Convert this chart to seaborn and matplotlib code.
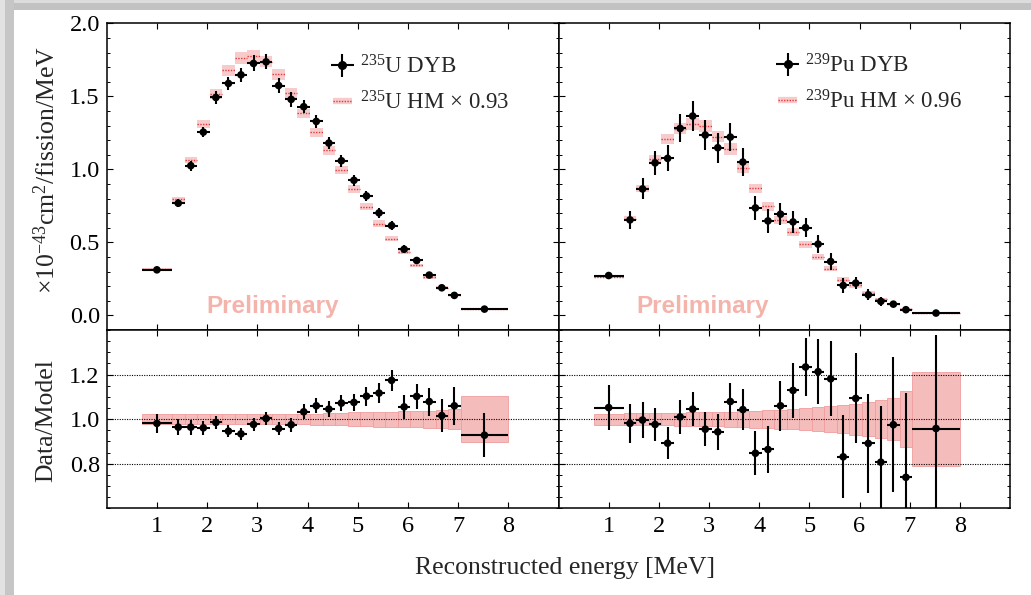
import numpy as np
import pandas as pd
import matplotlib
matplotlib.use("Agg")
import matplotlib.pyplot as plt
import seaborn as sns
from matplotlib.lines import Line2D
from matplotlib.patches import Rectangle
from matplotlib.ticker import MultipleLocator, FixedLocator, FormatStrFormatter

# ---------------- data ----------------
bin_edges = [0.7, 1.3, 1.55, 1.8, 2.05, 2.3, 2.55, 2.8, 3.05, 3.3, 3.55, 3.8, 4.05,
             4.3, 4.55, 4.8, 5.05, 5.3, 5.55, 5.8, 6.05, 6.3, 6.55, 6.8, 7.05, 8.0]

u_data = [0.312, 0.768, 1.025, 1.255, 1.492, 1.588, 1.647, 1.725, 1.736, 1.574, 1.479,
          1.429, 1.328, 1.180, 1.059, 0.925, 0.818, 0.702, 0.615, 0.453, 0.376, 0.276,
          0.189, 0.137, 0.043]
u_err = [0.012, 0.027, 0.034, 0.035, 0.047, 0.046, 0.050, 0.055, 0.052, 0.054, 0.050,
         0.046, 0.047, 0.043, 0.042, 0.038, 0.035, 0.035, 0.033, 0.027, 0.024, 0.022,
         0.018, 0.016, 0.014]
u_model = [0.317, 0.795, 1.064, 1.308, 1.515, 1.679, 1.763, 1.775, 1.738, 1.652, 1.520,
           1.383, 1.255, 1.130, 0.993, 0.864, 0.743, 0.629, 0.524, 0.435, 0.342, 0.262,
           0.191, 0.137, 0.043]
u_ratio = [0.981, 0.964, 0.964, 0.961, 0.985, 0.946, 0.934, 0.976, 1.003, 0.958, 0.975,
           1.033, 1.060, 1.045, 1.072, 1.075, 1.103, 1.117, 1.174, 1.055, 1.102, 1.079,
           1.016, 1.060, 0.928]
u_ratio_err = [0.043, 0.035, 0.034, 0.032, 0.030, 0.026, 0.027, 0.029, 0.031, 0.030, 0.031,
               0.033, 0.034, 0.035, 0.037, 0.039, 0.042, 0.045, 0.048, 0.053, 0.055, 0.063,
               0.073, 0.085, 0.099]
u_band = [0.021, 0.021, 0.021, 0.021, 0.021, 0.022, 0.022, 0.022, 0.022, 0.023, 0.023,
          0.024, 0.025, 0.026, 0.028, 0.030, 0.032, 0.033, 0.034, 0.035, 0.036, 0.038,
          0.040, 0.045, 0.104]

pu_data = [0.273, 0.654, 0.866, 1.044, 1.075, 1.280, 1.365, 1.235, 1.148, 1.221, 1.050,
           0.736, 0.647, 0.693, 0.640, 0.601, 0.488, 0.369, 0.205, 0.221, 0.141, 0.096,
           0.077, 0.039, 0.016]
pu_err = [0.012, 0.060, 0.072, 0.082, 0.089, 0.096, 0.100, 0.100, 0.103, 0.097, 0.093,
          0.084, 0.082, 0.074, 0.073, 0.064, 0.060, 0.056, 0.050, 0.043, 0.039, 0.030,
          0.020, 0.018, 0.010]
pu_model = [0.262, 0.661, 0.870, 1.069, 1.210, 1.278, 1.310, 1.296, 1.223, 1.139, 1.012,
            0.870, 0.747, 0.654, 0.572, 0.488, 0.401, 0.321, 0.244, 0.205, 0.153, 0.112,
            0.077, 0.046, 0.016]
pu_ratio = [1.052, 0.981, 0.996, 0.976, 0.892, 1.010, 1.045, 0.955, 0.943, 1.079, 1.043,
            0.847, 0.864, 1.060, 1.129, 1.234, 1.213, 1.181, 0.831, 1.093, 0.891, 0.807,
            0.975, 0.739, 0.958]
pu_ratio_err = [0.099, 0.089, 0.082, 0.076, 0.073, 0.075, 0.076, 0.076, 0.081, 0.084, 0.092,
                0.098, 0.107, 0.112, 0.123, 0.132, 0.146, 0.168, 0.187, 0.202, 0.222, 0.252,
                0.302, 0.379, 0.420]
pu_band = [0.025, 0.026, 0.026, 0.027, 0.028, 0.029, 0.030, 0.031, 0.032, 0.034, 0.036,
           0.038, 0.040, 0.043, 0.046, 0.050, 0.054, 0.058, 0.064, 0.070, 0.076, 0.084,
           0.095, 0.125, 0.210]

isotopes = ["235U", "239Pu"]
legend_data = [r"$^{235}$U DYB", r"$^{239}$Pu DYB"]
legend_model = [r"$^{235}$U HM $\times$ 0.93", r"$^{239}$Pu HM $\times$ 0.96"]
xticks = [1, 2, 3, 4, 5, 6, 7, 8]
top_yticks = [0.0, 0.5, 1.0, 1.5, 2.0]
bot_yticks = [0.8, 1.0, 1.2]

# ---------------- style ----------------
sns.set_theme(style="ticks")
plt.rcParams["font.family"] = ["Liberation Serif", "DejaVu Serif"]
plt.rcParams["mathtext.fontset"] = "custom"
plt.rcParams["mathtext.rm"] = "Liberation Serif"
plt.rcParams["mathtext.it"] = "Liberation Serif:italic"
plt.rcParams["mathtext.bf"] = "Liberation Serif:bold"

edges = np.array(bin_edges)
lo, hi = edges[:-1], edges[1:]
centers = 0.5 * (lo + hi)
halfw = 0.5 * (hi - lo)

frames = []
for iso, d, e, m, r, re_, b in [
    ("235U", u_data, u_err, u_model, u_ratio, u_ratio_err, u_band),
    ("239Pu", pu_data, pu_err, pu_model, pu_ratio, pu_ratio_err, pu_band),
]:
    frames.append(pd.DataFrame({"iso": iso, "lo": lo, "hi": hi, "E": centers, "hw": halfw,
                                "data": d, "err": e, "model": m, "ratio": r,
                                "ratio_err": re_, "band": b}))
df = pd.concat(frames, ignore_index=True)

W, H = 1031, 595
fig = plt.figure(figsize=(W / 100, H / 100), dpi=100)
fig.patch.set_facecolor("white")

# screenshot-like grey border (top & left)
fig.patches.append(Rectangle((0, 1 - 10 / H), 1, 10 / H, transform=fig.transFigure,
                             facecolor="#c2c2c2", edgecolor="none", zorder=0))
fig.patches.append(Rectangle((0, 1 - 3 / H), 1, 3 / H, transform=fig.transFigure,
                             facecolor="#dcdcdc", edgecolor="none", zorder=0))
fig.patches.append(Rectangle((0, 0), 14 / W, 1, transform=fig.transFigure,
                             facecolor="#c6c6c6", edgecolor="none", zorder=0))
fig.patches.append(Rectangle((0, 0), 5 / W, 1, transform=fig.transFigure,
                             facecolor="#e2e2e2", edgecolor="none", zorder=0))

L, M, R = 106.7 / W, 558.5 / W, 1010 / W
T, D, B = 1 - 23.3 / H, 1 - 330 / H, 1 - 508.3 / H

top_col = "#f7cbcb"
bot_col = "#f5bcbc"
red = "#e23a3a"
prelim_col = "#f4b4ac"
fs_tick = 17.5
fs_lab = 18.5
fs_leg = 16.5

legend_pos = [(0.500, 0.800), (0.486, 0.803)]
prelim_pos = [(0.368, 0.078), (0.320, 0.078)]

for j, iso in enumerate(isotopes):
    sub = df[df["iso"] == iso]
    x0 = L if j == 0 else M
    x1 = M if j == 0 else R
    axt = fig.add_axes([x0, D, x1 - x0, T - D])
    axb = fig.add_axes([x0, B, x1 - x0, D - B])

    # ---- top panel ----
    band_abs = sub["model"] * sub["band"]
    axt.bar(sub["lo"], 2 * band_abs, width=sub["hi"] - sub["lo"], bottom=sub["model"] - band_abs,
            align="edge", color=top_col, linewidth=0, zorder=1)
    axt.hlines(sub["model"], sub["lo"], sub["hi"], colors=red, linestyles=(0, (1, 1)),
               linewidth=1.0, zorder=2)
    axt.errorbar(sub["E"], sub["data"], xerr=sub["hw"], yerr=sub["err"], fmt="none",
                 ecolor="black", elinewidth=1.5, capsize=0, zorder=3)
    sns.scatterplot(data=sub, x="E", y="data", ax=axt, color="black", s=30,
                    edgecolor="none", zorder=4, legend=False)
    axt.text(prelim_pos[j][0], prelim_pos[j][1], "Preliminary", transform=axt.transAxes,
             ha="center", va="center", fontsize=17.5, fontweight="bold",
             family="Liberation Sans", color=prelim_col, zorder=0.5)

    # legend handles
    h_data = axt.errorbar([np.nan], [np.nan], xerr=[0.1], yerr=[0.1], fmt="o", color="black",
                          ms=5.5, elinewidth=1.5, capsize=0)
    h_model = (Line2D([], [], color=top_col, lw=4.5, solid_capstyle="butt"),
               Line2D([], [], color=red, lw=1.0, ls=(0, (1, 1))))
    axt.legend([h_data, h_model], [legend_data[j], legend_model[j]], loc="center left",
               bbox_to_anchor=legend_pos[j], frameon=False, fontsize=fs_leg,
               handlelength=0.85, handletextpad=0.35, labelspacing=0.55, borderpad=0,
               borderaxespad=0)

    axt.set_xlim(0, 9)
    axt.set_ylim(-0.1, 2.0)
    axt.xaxis.set_major_locator(FixedLocator(xticks))
    axt.yaxis.set_major_locator(FixedLocator(top_yticks))
    axt.yaxis.set_minor_locator(MultipleLocator(0.1))
    axt.yaxis.set_major_formatter(FormatStrFormatter("%.1f"))
    axt.set_xlabel("")
    axt.set_ylabel("")
    axt.tick_params(axis="x", labelbottom=False)

    # ---- bottom panel ----
    axb.bar(sub["lo"], 2 * sub["band"], width=sub["hi"] - sub["lo"], bottom=1 - sub["band"],
            align="edge", color=bot_col, edgecolor="#f09d9d", linewidth=0.6, zorder=1)
    for yv in bot_yticks:
        axb.axhline(yv, color="black", lw=0.8, ls=(0, (1, 1.2)), zorder=2)
    axb.errorbar(sub["E"], sub["ratio"], xerr=sub["hw"], yerr=sub["ratio_err"], fmt="none",
                 ecolor="black", elinewidth=1.5, capsize=0, zorder=3)
    sns.scatterplot(data=sub, x="E", y="ratio", ax=axb, color="black", s=30,
                    edgecolor="none", zorder=4, legend=False)
    axb.set_xlim(0, 9)
    axb.set_ylim(0.6, 1.4)
    axb.xaxis.set_major_locator(FixedLocator(xticks))
    axb.yaxis.set_major_locator(FixedLocator(bot_yticks))
    axb.yaxis.set_minor_locator(MultipleLocator(0.05))
    axb.yaxis.set_major_formatter(FormatStrFormatter("%.1f"))
    axb.set_xlabel("")
    axb.set_ylabel("")

    for ax in (axt, axb):
        for s in ax.spines.values():
            s.set_linewidth(1.1)
            s.set_color("black")
            s.set_visible(True)
        ax.tick_params(which="both", direction="in", top=True, right=True, colors="black",
                       labelsize=fs_tick)
        ax.tick_params(which="major", length=4.5, width=0.8, pad=5.0)
        ax.tick_params(which="minor", length=2.3, width=0.7)
        ax.set_facecolor("white")
        if j == 1:
            ax.tick_params(axis="y", labelleft=False)
    axb.tick_params(axis="x", pad=5.5)

fig.text(47 / W, 1 - 170 / H, r"$\times$10$^{-43}$cm$^{2}$/fission/MeV", rotation=90,
         ha="center", va="center", fontsize=fs_lab)
fig.text(46 / W, 1 - 421 / H, "Data/Model", rotation=90, ha="center", va="center",
         fontsize=fs_lab)
fig.text(565 / W, 1 - 568 / H, "Reconstructed energy [MeV]", ha="center", va="center",
         fontsize=fs_lab)

fig.savefig("out.png", dpi=100)
